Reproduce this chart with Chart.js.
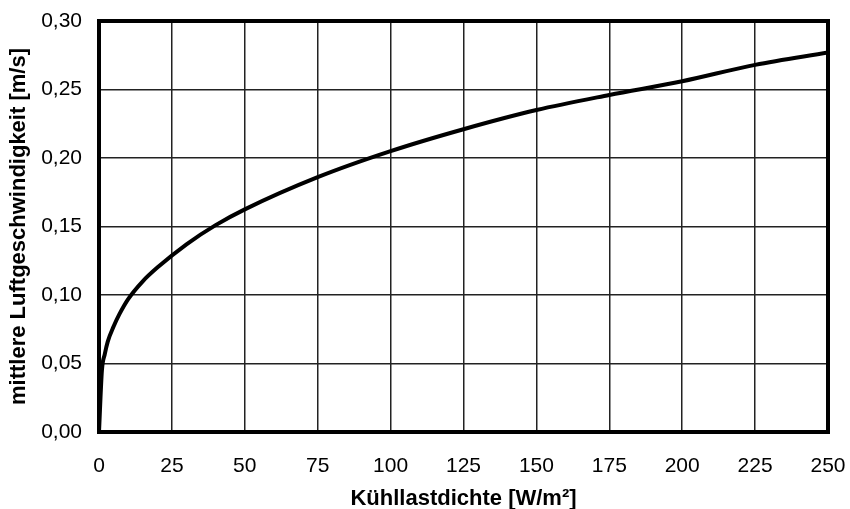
<!DOCTYPE html>
<html lang="de">
<head>
    <meta charset="UTF-8">
    <title>Luftgeschwindigkeit</title>
    <style>
        body { margin: 0; background: #fff; }
        #wrap { width: 850px; height: 509px; }
    </style>
</head>
<body>
<div id="wrap"><canvas id="chart"></canvas></div>
<script src="https://cdn.jsdelivr.net/npm/chart.js"></script>
<script>
    // Kühllastdichte [W/m²]
    const loadDensity = [0, 1, 2, 3, 5, 7, 10, 15, 20, 30, 40, 50, 75, 100, 125, 150, 175, 200, 225, 250];
    // mittlere Luftgeschwindigkeit [m/s]
    const airSpeed = [0, 0.045, 0.057, 0.066, 0.077, 0.086, 0.097, 0.110, 0.120, 0.137, 0.151, 0.1625, 0.186, 0.205, 0.221, 0.235, 0.246, 0.256, 0.268, 0.277];
    const xTicks = [0, 25, 50, 75, 100, 125, 150, 175, 200, 225, 250];
    const yTicks = [0, 0.05, 0.10, 0.15, 0.20, 0.25, 0.30];

    // thick frame round the plot area
    const frame = {
        id: 'frame',
        afterDatasetsDraw(chart) {
            const a = chart.chartArea, ctx = chart.ctx;
            ctx.save();
            ctx.strokeStyle = '#000';
            ctx.lineWidth = 4;
            ctx.strokeRect(a.left, a.top, a.right - a.left, a.bottom - a.top);
            ctx.restore();
        }
    };

    const ctx = document.getElementById('chart').getContext('2d');
    new Chart(ctx, {
        type: 'line',
        data: {
            datasets: [{
                data: loadDensity.map((x, i) => ({ x: x, y: airSpeed[i] })),
                borderColor: '#000',
                borderWidth: 4,
                pointRadius: 0,
                cubicInterpolationMode: 'monotone',
                fill: false
            }]
        },
        options: {
            responsive: true,
            maintainAspectRatio: false,
            animation: false,
            layout: { padding: { top: 21, right: 22, left: 0, bottom: 0 } },
            plugins: { legend: { display: false }, tooltip: { enabled: false } },
            scales: {
                x: {
                    type: 'linear',
                    min: 0, max: 250,
                    afterBuildTicks: s => { s.ticks = xTicks.map(v => ({ value: v })); },
                    afterFit: s => { s.height = 77; s.paddingLeft = 0; s.paddingRight = 0; },
                    grid: { color: '#222', lineWidth: 1.5, drawTicks: false },
                    border: { display: false },
                    ticks: {
                        color: '#000', padding: 22, maxRotation: 0,
                        font: { family: 'Liberation Sans, Arial', size: 21 }
                    },
                    title: {
                        display: true, text: 'Kühllastdichte [W/m²]', color: '#000',
                        font: { family: 'Liberation Sans, Arial', size: 22, weight: 'bold' },
                        padding: { top: 0, bottom: -3 }
                    }
                },
                y: {
                    type: 'linear',
                    min: 0, max: 0.3,
                    afterBuildTicks: s => { s.ticks = yTicks.map(v => ({ value: v })); },
                    afterFit: s => { s.width = 99; s.paddingTop = 0; s.paddingBottom = 0; },
                    grid: { color: '#222', lineWidth: 1.5, drawTicks: false },
                    border: { display: false },
                    ticks: {
                        color: '#000', padding: 17,
                        font: { family: 'Liberation Sans, Arial', size: 21 },
                        callback: v => v.toFixed(2).replace('.', ',')
                    },
                    title: {
                        display: true, text: 'mittlere Luftgeschwindigkeit [m/s]', color: '#000',
                        font: { family: 'Liberation Sans, Arial', size: 22, weight: 'bold' },
                        padding: { top: 6, bottom: 0 }
                    }
                }
            }
        },
        plugins: [frame]
    });
</script>
</body>
</html>
